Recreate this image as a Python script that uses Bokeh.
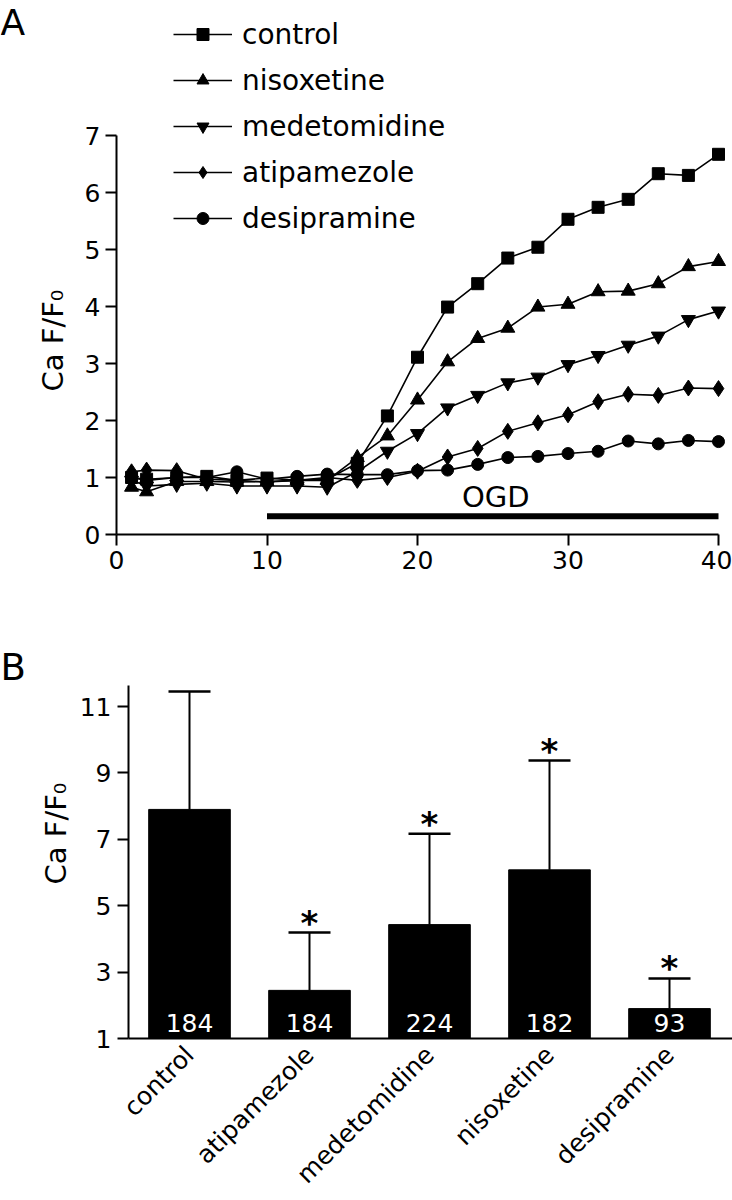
from math import pi
from bokeh.plotting import figure
from bokeh.layouts import column
from bokeh.models import (Range1d, FixedTicker, Legend, LegendItem, Label,
                          ColumnDataSource, Whisker, LinearAxis)
from bokeh.core.properties import value
from bokeh.embed import file_html
from bokeh.resources import INLINE

FONT = "DejaVu Sans"

# ---------------- Panel A data ----------------
minutes = [1, 2, 4, 6, 8, 10, 12, 14, 16, 18, 20, 22, 24, 26, 28, 30, 32, 34, 36, 38, 40]
control = [1.00, 0.97, 1.00, 1.02, 0.95, 0.99, 0.95, 0.97, 1.25, 2.08, 3.11, 3.99, 4.40, 4.85, 5.04, 5.53, 5.74, 5.88, 6.33, 6.30, 6.67]
nisoxetine = [0.83, 0.75, 0.93, 0.93, 0.92, 0.93, 0.95, 0.95, 1.35, 1.73, 2.36, 3.03, 3.44, 3.62, 3.99, 4.04, 4.26, 4.27, 4.40, 4.70, 4.79]
medetomidine = [0.95, 0.85, 0.88, 0.90, 0.85, 0.85, 0.85, 0.83, 1.10, 1.46, 1.77, 2.22, 2.44, 2.66, 2.76, 2.98, 3.14, 3.32, 3.48, 3.77, 3.92]
atipamezole = [1.10, 1.13, 1.12, 0.97, 0.95, 0.92, 0.95, 1.00, 0.95, 1.00, 1.11, 1.36, 1.51, 1.81, 1.96, 2.10, 2.33, 2.46, 2.44, 2.57, 2.56]
desipramine = [1.00, 0.95, 1.00, 1.00, 1.10, 0.97, 1.02, 1.06, 1.05, 1.05, 1.12, 1.13, 1.23, 1.35, 1.37, 1.42, 1.46, 1.64, 1.59, 1.65, 1.63]
series_names = ["control", "nisoxetine", "medetomidine", "atipamezole", "desipramine"]
series_values = [control, nisoxetine, medetomidine, atipamezole, desipramine]
series_markers = ["square", "triangle", "inverted_triangle", "diamond", "circle"]
series_sizes = [12, 14, 14, 16, 12]
a_xticks = [0, 10, 20, 30, 40]
a_yticks = [0, 1, 2, 3, 4, 5, 6, 7]
OGD_START, OGD_END, OGD_LEVEL = 10, 40, 0.32
OGD_TEXT = "OGD"

# ---------------- Panel B data ----------------
groups = ["control", "atipamezole", "medetomidine", "nisoxetine", "desipramine"]
means = [7.90, 2.45, 4.43, 6.08, 1.90]
upper = [11.45, 4.19, 7.17, 9.37, 2.81]
counts = [184, 184, 224, 182, 93]
signif = ["", "*", "*", "*", "*"]
b_yticks = [1, 3, 5, 7, 9, 11]
B_YMAX = 11.63

Y_TITLE = "Ca F/F\u2080"


def style_axis(ax, size="25px"):
    ax.axis_line_width = 2
    ax.axis_line_color = "black"
    ax.major_tick_line_width = 2
    ax.major_tick_line_color = "black"
    ax.major_tick_in = 0
    ax.major_tick_out = 11
    ax.minor_tick_line_color = None
    ax.major_label_text_font = FONT
    ax.major_label_text_font_size = size
    ax.major_label_text_color = "black"


# ================= Panel A =================
WA, HA = 732, 612
AX0, AX40 = 116, 718      # pixel columns of x=0 and x=40
AY0, AY7 = 534, 135       # pixel rows of y=0 and y=7
xpa = (AX40 - AX0) / 40.0
ypa = (AY0 - AY7) / 7.0
pA = figure(width=WA, height=HA, output_backend="svg", toolbar_location=None,
            x_range=Range1d(-AX0 / xpa, 40 + (WA - AX40) / xpa),
            y_range=Range1d(-(HA - AY0) / ypa, AY0 / ypa),
            x_axis_location=None, y_axis_location=None,
            min_border=0, min_border_left=0, min_border_right=0,
            min_border_top=0, min_border_bottom=0)
pA.frame_align = False
pA.outline_line_color = None
pA.grid.visible = False

xa = LinearAxis(fixed_location=0, bounds=(0, 40), ticker=FixedTicker(ticks=a_xticks))
style_axis(xa)
xa.major_label_standoff = 5
pA.add_layout(xa, "below")
ya = LinearAxis(fixed_location=0, bounds=(0, 7), ticker=FixedTicker(ticks=a_yticks))
style_axis(ya)
ya.major_label_standoff = 5
pA.add_layout(ya, "left")

items = []
for name, vals, mk, sz in zip(series_names, series_values, series_markers, series_sizes):
    src = ColumnDataSource(dict(x=minutes, y=vals))
    ln = pA.line("x", "y", source=src, line_color="black", line_width=1.6)
    sc = pA.scatter("x", "y", source=src, marker=mk, size=sz,
                    fill_color="black", line_color="black")
    items.append(LegendItem(label=name, renderers=[ln, sc]))

pA.line([OGD_START, OGD_END], [OGD_LEVEL, OGD_LEVEL], line_color="black",
        line_width=6, line_cap="butt")
pA.text(x=[(OGD_START + OGD_END) / 2 + 0.2], y=[0.65], text=[OGD_TEXT],
        text_font=value(FONT), text_font_size="29px", text_align="center",
        text_baseline="middle", text_color="black")

legend = Legend(items=items, location=(173, HA - 238), border_line_color=None,
                background_fill_alpha=0, padding=0, margin=0, spacing=6,
                glyph_width=59, glyph_height=30, label_height=40,
                label_standoff=10, label_text_font=FONT,
                label_text_font_size="28px", label_text_color="black")
pA.add_layout(legend)

pA.add_layout(Label(x=0, y=HA - 1, x_units="screen", y_units="screen", text="A",
                    text_font=FONT, text_font_size="36px", text_color="black",
                    text_baseline="top", text_align="left"))
pA.add_layout(Label(x=52, y=HA - 340, x_units="screen", y_units="screen", text=Y_TITLE,
                    angle=pi / 2, text_font=FONT, text_font_size="29px",
                    text_color="black", text_align="center", text_baseline="middle"))

# ================= Panel B =================
WB, HB = 732, 588
BX0, BSTEP = 189, 120     # pixel column of first bar centre, spacing
BY1, BY11 = 1038 - 612, 706 - 612   # pixel rows of y=1 and y=11
BAXIS = 128               # pixel column of the y axis
xpb = float(BSTEP)
ypb = (BY1 - BY11) / 10.0
positions = list(range(len(groups)))
pB = figure(width=WB, height=HB, output_backend="svg", toolbar_location=None,
            x_range=Range1d(-BX0 / xpb, (WB - BX0) / xpb),
            y_range=Range1d(1 - (HB - BY1) / ypb, 1 + BY1 / ypb),
            x_axis_location=None, y_axis_location=None,
            min_border=0, min_border_left=0, min_border_right=0,
            min_border_top=0, min_border_bottom=0)
pB.frame_align = False
pB.outline_line_color = None
pB.grid.visible = False

yaxis_x = (BAXIS - BX0) / xpb
xb = LinearAxis(fixed_location=1, bounds=(yaxis_x, (WB - BX0) / xpb),
                ticker=FixedTicker(ticks=positions))
style_axis(xb, "25px")
xb.major_tick_line_color = None
xb.major_tick_out = 0
xb.major_label_orientation = pi / 4
xb.major_label_standoff = 12
xb.major_label_overrides = {i: g for i, g in zip(positions, groups)}
pB.add_layout(xb, "below")
yb = LinearAxis(fixed_location=yaxis_x, bounds=(1, B_YMAX),
                ticker=FixedTicker(ticks=b_yticks))
style_axis(yb)
yb.major_label_standoff = 6
pB.add_layout(yb, "left")

bsrc = ColumnDataSource(dict(x=positions, top=means, upper=upper,
                             n=[str(c) for c in counts], sig=signif))
pB.vbar(x="x", top="top", bottom=1, width=0.68, source=bsrc,
        fill_color="black", line_color="black")
wh = Whisker(base="x", lower="top", upper="upper", source=bsrc,
             line_color="black", line_width=2, lower_head=None)
wh.upper_head.size = 42
wh.upper_head.line_width = 2.5
wh.upper_head.line_color = "black"
pB.add_layout(wh)
pB.text(x="x", y="upper", text="sig", source=bsrc, text_font=value(FONT),
        text_font_size="34px", text_font_style="bold", text_align="center",
        text_baseline="middle", y_offset=-10, text_color="black")
pB.text(x="x", y=1, text="n", source=bsrc, text_font=value(FONT),
        text_font_size="25px", text_align="center", text_baseline="middle",
        y_offset=-16, text_color="white")

pB.add_layout(Label(x=0, y=HB - 55, x_units="screen", y_units="screen", text="B",
                    text_font=FONT, text_font_size="37px", text_color="black",
                    text_baseline="middle", text_align="left"))
pB.add_layout(Label(x=55, y=HB - (833 - 612), x_units="screen", y_units="screen",
                    text=Y_TITLE, angle=pi / 2, text_font=FONT,
                    text_font_size="29px", text_color="black",
                    text_align="center", text_baseline="middle"))

layout = column(pA, pB, spacing=0)
open("out.html", "w").write(file_html(layout, INLINE))
